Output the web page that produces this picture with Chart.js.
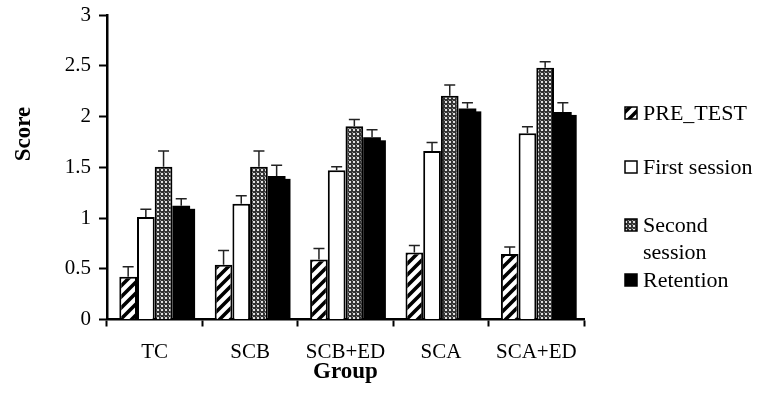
<!DOCTYPE html>
<html>
<head>
<meta charset="utf-8">
<script src="https://cdn.jsdelivr.net/npm/chart.js@4"></script>
<style>
  body { margin: 0; background: #fff; }
  #wrap { width: 763px; height: 405px; }
</style>
</head>
<body>
<div id="wrap"><canvas id="chart" width="763" height="405"></canvas></div>
<script>
// Group means and upper error (SE)
const groups = ['TC', 'SCB', 'SCB+ED', 'SCA', 'SCA+ED'];
const seriesNames = ['PRE_TEST', 'First session', 'Second session', 'Retention'];

const preTest = [0.42, 0.54, 0.59, 0.66, 0.645];
const firstSession = [1.01, 1.14, 1.47, 1.66, 1.835];
const secondSession = [1.505, 1.505, 1.905, 2.205, 2.48];
const retention = [1.12, 1.415, 1.795, 2.08, 2.045];

const preTestErr = [0.10, 0.14, 0.11, 0.07, 0.07];
const firstSessionErr = [0.075, 0.08, 0.035, 0.085, 0.065];
const secondSessionErr = [0.155, 0.155, 0.065, 0.105, 0.06];
const retentionErr = [0.07, 0.105, 0.075, 0.055, 0.09];

const yTicks = [0, 0.5, 1, 1.5, 2, 2.5, 3];
const yTitle = 'Score';

const serif = "'Liberation Serif', 'Times New Roman', serif";

// fill patterns
function hatchPattern() {
    const c = document.createElement('canvas');
    c.width = 11; c.height = 11;
    const g = c.getContext('2d');
    g.fillStyle = '#fff';
    g.fillRect(0, 0, 11, 11);
    g.strokeStyle = '#000';
    g.lineWidth = 3.6;
    g.beginPath();
    g.moveTo(-5, 16); g.lineTo(16, -5);
    g.moveTo(-5, 5); g.lineTo(5, -5);
    g.moveTo(6, 16); g.lineTo(16, 6);
    g.stroke();
    return g.createPattern(c, 'repeat');
}

function dotPattern() {
    const c = document.createElement('canvas');
    c.width = 4; c.height = 4;
    const g = c.getContext('2d');
    g.fillStyle = '#333';
    g.fillRect(0, 0, 4, 4);
    g.fillStyle = '#e0e0e0';
    g.fillRect(1, 1, 2, 2);
    g.fillStyle = '#888';
    g.fillRect(0, 0, 1, 1);
    return g.createPattern(c, 'repeat');
}

const fills = [hatchPattern(), '#ffffff', dotPattern(), '#000000'];
const errors = [preTestErr, firstSessionErr, secondSessionErr, retentionErr];

// error bars (upper only) with a cap
const errorBars = {
    id: 'errorBars',
    afterDatasetsDraw(chart) {
        const ctx = chart.ctx;
        const y = chart.scales.y;
        ctx.save();
        ctx.strokeStyle = '#222';
        ctx.lineWidth = 1.5;
        chart.data.datasets.forEach((ds, di) => {
            const meta = chart.getDatasetMeta(di);
            meta.data.forEach((bar, i) => {
                const top = y.getPixelForValue(ds.data[i] + errors[di][i]);
                ctx.beginPath();
                ctx.moveTo(bar.x, bar.y);
                ctx.lineTo(bar.x, top);
                ctx.moveTo(bar.x - 5.5, top);
                ctx.lineTo(bar.x + 5.5, top);
                ctx.stroke();
            });
        });
        ctx.restore();
    }
};

// drop shadow behind the retention bars
const barShadow = {
    id: 'barShadow',
    beforeDatasetDraw(chart, args) {
        if (args.index !== 3) return;
        const ctx = chart.ctx;
        ctx.save();
        ctx.fillStyle = '#000';
        args.meta.data.forEach(bar => {
            const w = bar.width;
            ctx.fillRect(bar.x - w / 2 + 5, bar.y + 3, w, bar.base - bar.y - 3);
        });
        ctx.restore();
    }
};

// y title sits above the axis middle in the original
const scoreTitle = {
    id: 'scoreTitle',
    afterDraw(chart) {
        const ctx = chart.ctx;
        ctx.save();
        ctx.translate(24, 134);
        ctx.rotate(-Math.PI / 2);
        ctx.font = 'bold 23px ' + serif;
        ctx.fillStyle = '#000';
        ctx.textAlign = 'center';
        ctx.textBaseline = 'middle';
        ctx.fillText(yTitle, 0, 0);
        ctx.restore();
    }
};

// legend on the right, with wrapping
const sideLegend = {
    id: 'sideLegend',
    afterDraw(chart) {
        const ctx = chart.ctx;
        const rows = [120, 174, 232, 287];
        ctx.save();
        ctx.font = '22px ' + serif;
        ctx.textBaseline = 'alphabetic';
        chart.data.datasets.forEach((ds, i) => {
            const base = rows[i];
            ctx.fillStyle = ds.backgroundColor;
            ctx.fillRect(625, base - 13, 12, 12);
            ctx.strokeStyle = '#000';
            ctx.lineWidth = 1.5;
            ctx.strokeRect(625, base - 13, 12, 12);
            ctx.fillStyle = '#000';
            const words = ds.label.split(' ');
            let line = '';
            let yy = base;
            words.forEach(w => {
                const test = line ? line + ' ' + w : w;
                if (ctx.measureText(test).width > 116 && line) {
                    ctx.fillText(line, 643, yy);
                    line = w;
                    yy += 27;
                } else {
                    line = test;
                }
            });
            ctx.fillText(line, 643, yy);
        });
        ctx.restore();
    }
};

const seriesValues = [preTest, firstSession, secondSession, retention];

new Chart(document.getElementById('chart'), {
    type: 'bar',
    data: {
        labels: groups,
        datasets: seriesNames.map((name, i) => ({
            label: name,
            data: seriesValues[i],
            backgroundColor: fills[i],
            borderColor: '#000',
            borderWidth: i === 3 ? 0 : 2,
            barPercentage: 1,
            categoryPercentage: 0.742
        }))
    },
    options: {
        responsive: false,
        animation: false,
        layout: { padding: { top: 15, right: 179, bottom: 0, left: 0 } },
        plugins: {
            legend: { display: false },
            tooltip: { enabled: false }
        },
        scales: {
            x: {
                afterFit: s => { s.height = 85.5; s.paddingLeft = 0; s.paddingRight = 0; },
                grid: {
                    offset: true,
                    drawOnChartArea: false,
                    tickLength: 7,
                    tickColor: '#000',
                    tickWidth: 2
                },
                border: { color: '#000', width: 2.5 },
                ticks: {
                    color: '#000',
                    font: { family: serif, size: 21 },
                    padding: 13
                },
                title: {
                    display: true,
                    text: 'Group',
                    color: '#000',
                    font: { family: serif, size: 23, weight: 'bold' },
                    padding: { top: 0, bottom: 19 }
                }
            },
            y: {
                min: 0,
                max: 3,
                afterFit: s => { s.width = 107; s.paddingTop = 0; s.paddingBottom = 0; },
                afterBuildTicks: s => { s.ticks = yTicks.map(v => ({ value: v })); },
                grid: {
                    drawOnChartArea: false,
                    tickLength: 8,
                    tickColor: '#000',
                    tickWidth: 2
                },
                border: { color: '#000', width: 2.5 },
                ticks: {
                    color: '#000',
                    font: { family: serif, size: 21 },
                    padding: 8,
                    callback: v => String(v)
                }
            }
        }
    },
    plugins: [barShadow, errorBars, scoreTitle, sideLegend]
});
</script>
</body>
</html>
